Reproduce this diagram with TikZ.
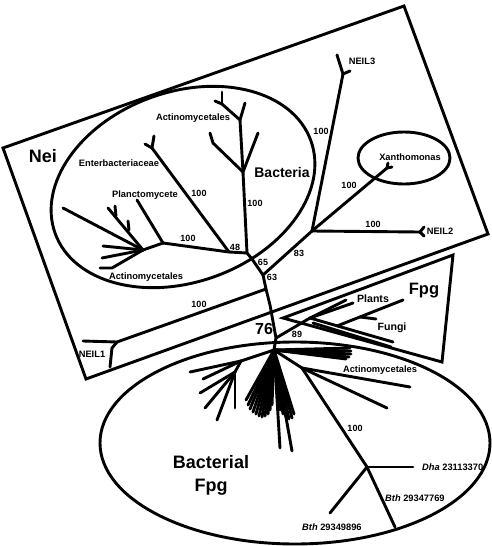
\documentclass[tikz,border=0pt]{standalone}
\usepackage{fontspec}
\setmainfont{Liberation Sans}
\begin{document}
\begin{tikzpicture}[x=1pt,y=-1pt,
  br/.style={line width=2.9pt, line cap=round, line join=round},
  frame/.style={line width=2.9pt, line join=miter},
  lab/.style={font=\bfseries\fontsize{9.3}{11}\selectfont, inner sep=0pt, text height=6.7pt, text depth=0pt},
  num/.style={font=\bfseries\fontsize{9}{11}\selectfont, inner sep=0pt, text height=6.5pt, text depth=0pt},
  labb/.style={font=\bfseries\fontsize{10.6}{12}\selectfont, inner sep=0pt, text height=7.6pt, text depth=0pt},
  midlab/.style={font=\bfseries\fontsize{14}{16}\selectfont, inner sep=0pt, text height=10pt, text depth=0pt},
  fpglab/.style={font=\bfseries\fontsize{16.5}{18}\selectfont, inner sep=0pt, text height=11.9pt, text depth=0pt},
  biglab/.style={font=\bfseries\fontsize{18}{20}\selectfont, inner sep=0pt, text height=13pt, text depth=0pt},
  bignum/.style={font=\bfseries\fontsize{16}{18}\selectfont, inner sep=0pt, text height=11.5pt, text depth=0pt}]
\useasboundingbox (0,0) rectangle (492,546);

% ---------- frames ----------
\draw[frame] (3,148) -- (404,6) -- (488,234) -- (86,379) -- cycle;
\draw[frame] (283,318) -- (453,255) -- (442,362) -- cycle;
\draw[frame, rotate around={20:(183,187)}] (183,187) ellipse [x radius=136, y radius=95];
\draw[frame] (404,158) ellipse [x radius=46, y radius=26];
\draw[frame] (295,443) ellipse [x radius=195, y radius=101];

% ---------- coordinates ----------
\coordinate (C) at (274,350);
\coordinate (T1) at (276,338);
\coordinate (tr1) at (270,305);
\coordinate (N1b) at (266,289);
\coordinate (n63) at (263,275);
\coordinate (n65) at (252,259);
\coordinate (J) at (247,253);
\coordinate (n48) at (229,252);
\coordinate (L) at (163,243);
\coordinate (A) at (143,250);
\coordinate (B1) at (243,172);
\coordinate (B2) at (240,120);
\coordinate (Atip) at (222,104);
\coordinate (Etip) at (152,148);
\coordinate (n83) at (312,231);
\coordinate (N1) at (117,342);
\coordinate (N3) at (343,74);
\coordinate (Xa) at (387,168);
\coordinate (N2) at (420,232);
\coordinate (Q) at (310,318);
\coordinate (Fu) at (337,326);
\coordinate (F1) at (241,361);
\coordinate (F2) at (235,372);
\coordinate (R1) at (302,368);
\coordinate (D) at (367,467);

% ---------- trunk ----------
\draw[br] (J) -- (n65) -- (n63) -- (N1b) -- (tr1) -- (T1) -- (C);

% ---------- Nei side ----------
\draw[br] (n63) -- (n83);
\draw[br] (n83) -- (N3);
\draw[br] (N3) -- (337,55);
\draw[br] (N3) -- (350,71);
\draw[br] (n83) -- (Xa);
\draw[br] (Xa) -- (392,167);
\draw[br] (Xa) -- (388,163);
\draw[br] (n83) -- (N2);
\draw[br] (N2) -- (424,227);
\draw[br] (N2) -- (424,236);
\draw[br] (N1b) -- (N1);
\draw[br] (N1) -- (83,341);
\draw[br] (N1) -- (112,348) -- (110,367);

% ---------- Bacteria clade ----------
\draw[br] (J) -- (B1);
\draw[br] (B1) -- (258,133);
\draw[br] (B1) -- (213,143) -- (210,133);
\draw[br] (B1) -- (B2);
\draw[br] (B2) -- (245,103);
\draw[br] (B2) -- (Atip);
\draw[br] (Atip) -- (222,92);
\draw[br] (Atip) -- (215,101);
\draw[br] (J) -- (n48) -- (L);
\draw[br] (n48) -- (Etip);
\draw[br] (Etip) -- (154,136);
\draw[br] (Etip) -- (145,144);
\draw[br] (L) -- (137,200);
\draw[br] (L) -- (A);
\draw[br] (A) -- (63,208);
\draw[br] (A) -- (108,208);
\draw[br] (116,216) -- (115,206);
\draw[br] (129,230) -- (128,221);
\draw[br] (A) -- (103,246);
\draw[br] (A) -- (102,258);
\draw[br] (A) -- (112,268) -- (100,268);

% ---------- eukaryotic Fpg ----------
\draw[br] (T1) -- (Q);
\draw[br] (Q) -- (340,303) -- (346,300);
\draw[br] (Q) -- (353,303);
\draw[br] (Q) -- (393,342);
\draw[br] (313,323) -- (391,347);
\draw[br] (Fu) -- (403,300);
\draw[br] (360,317) -- (376,319);

% ---------- bacterial Fpg ----------
\draw[br] (C) -- (F1);
\foreach \p in {(190,372),(203,379)} \draw[br] (F1) -- \p;
\draw[br] (F1) -- (F2);
\foreach \p in {(200,393),(205,408),(217,420),(235,408)} \draw[br] (F2) -- \p;
\foreach \p in {(246,400),(248,405),(250,409),(253,412),(256,414),(259,416),(262,417),(265,416),(268,414),(270,410),(272,405)}
  \draw[br] (C) -- \p;
\foreach \p in {(280,410),(283,414),(286,417),(289,419),(292,418),(294,414),(280,448),(292,451)}
  \draw[br] (C) -- \p;
\foreach \p in {(350,348),(351,351),(351,354),(349,357),(346,359),(340,356)}
  \draw[br] (C) -- \p;
\draw[br] (C) -- (R1);
\draw[br] (R1) -- (410,387);
\draw[br] (R1) -- (387,408);
\draw[br] (R1) -- (D);
\draw[br] (D) -- (413,467);
\draw[br] (D) -- (330,513);
\draw[br] (D) -- (395,527);

% ---------- labels ----------
\node[biglab] (lNei) at (43,156) {Nei};
\node[midlab] (lBac) at (282,172) {Bacteria};
\node[lab] (lAct1) at (193,117) {Actinomycetales};
\node[lab] (lEnt) at (119,163) {Enterbacteriaceae};
\node[lab] (lPla) at (145,194) {Planctomycete};
\node[lab] (lAct2) at (146,276) {Actinomycetales};
\node[lab] (lN3) at (362,61) {NEIL3};
\node[lab] (lXa) at (410,157) {Xanthomonas};
\node[lab] (lN2) at (440,231) {NEIL2};
\node[lab] (lN1) at (92,354) {NEIL1};
\node[fpglab] (lFpg) at (424,289) {Fpg};
\node[labb] (lPl) at (373,299) {Plants};
\node[labb] (lFu) at (392,327) {Fungi};
\node[lab] (lAct3) at (380,369) {Actinomycetales};
\node[biglab] (lBF1) at (211,462) {Bacterial};
\node[biglab] (lBF2) at (211,485) {Fpg};
\node[lab, anchor=west] (lDha) at (422,467) {\textit{Dha} 23113370};
\node[lab, anchor=west] (lBt1) at (385,498) {\textit{Bth} 29347769};
\node[lab, anchor=west] (lBt2) at (302,527) {\textit{Bth} 29349896};

\node[num] (b1) at (321,131) {100};
\node[num] (b2) at (349,185) {100};
\node[num] (b3) at (373,224) {100};
\node[num] (b4) at (299,253) {83};
\node[num] (b5) at (199,193) {100};
\node[num] (b6) at (255,203) {100};
\node[num] (b7) at (188,238) {100};
\node[num] (b8) at (235,247) {48};
\node[num] (b9) at (263,262) {65};
\node[num] (b10) at (272,277) {63};
\node[num] (b11) at (199,304) {100};
\node[bignum] (b12) at (264,329) {76};
\node[num] (b13) at (297,334) {89};
\node[num] (b14) at (355,428) {100};
\end{tikzpicture}
\end{document}
